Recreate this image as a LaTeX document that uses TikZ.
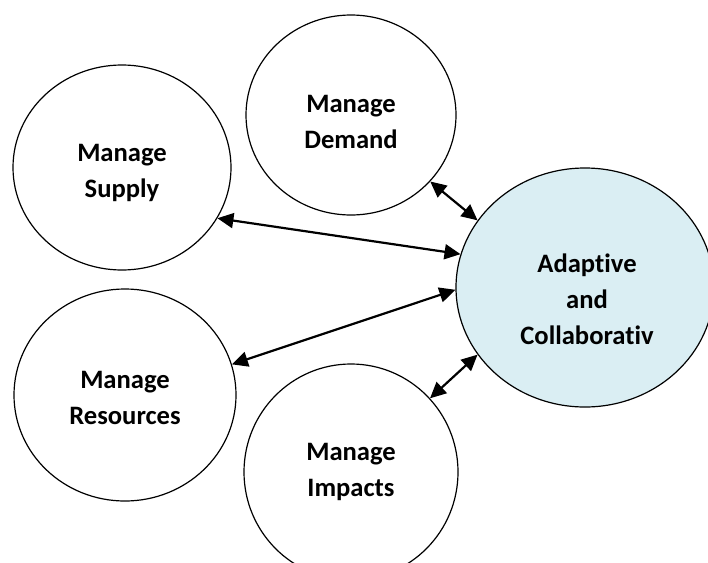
\documentclass[tikz,border=0pt]{standalone}
\usepackage{fontspec}
\setmainfont{Carlito}[Ligatures=NoCommon]
\usetikzlibrary{shapes.geometric,arrows.meta}
\definecolor{paleblue}{HTML}{DAEEF3}
\begin{document}
\begin{tikzpicture}[x=1pt,y=-1pt,<->,>={Triangle[length=16pt,width=15pt]},
		unit/.style={draw,ellipse,line width=1.2pt,inner sep=0pt},
		txt/.style={align=center,font=\bfseries\fontsize{26.6}{36}\selectfont}]
		\useasboundingbox (0,0) rectangle (708,562);
		\clip (0,0) rectangle (708,562);
		\node (1) [unit,minimum width=210pt,minimum height=200pt] at (351,115) {};
		\node (2) [unit,minimum width=218pt,minimum height=205pt] at (122,167.5) {};
		\node (3) [unit,minimum width=222pt,minimum height=212pt] at (125,395) {};
		\node (4) [unit,minimum width=214pt,minimum height=216pt] at (351,472) {};
		\node (5) [unit,fill=paleblue,minimum width=258pt,minimum height=239pt] at (585,287.5) {};
		\node (1t) [txt] at ([yshift=-7pt]1) {Manage\\Demand};
		\node (2t) [txt] at ([yshift=-5pt]2) {Manage\\Supply};
		\node (3t) [txt] at ([yshift=-3pt]3) {Manage\\Resources};
		\node (4t) [txt] at (4) {Manage\\Impacts};
		\node (5t) [txt] at ([xshift=2pt,yshift=-12pt]5) {Adaptive\\and\\Collaborativ};
		\path[line width=2.2pt]
		(1.-40) edge (5.148.7)
		(2.-28) edge (5.165.6)
		(3.16) edge (5.181.5)
		(4.43) edge (5.212);
	\end{tikzpicture}
\end{document}
